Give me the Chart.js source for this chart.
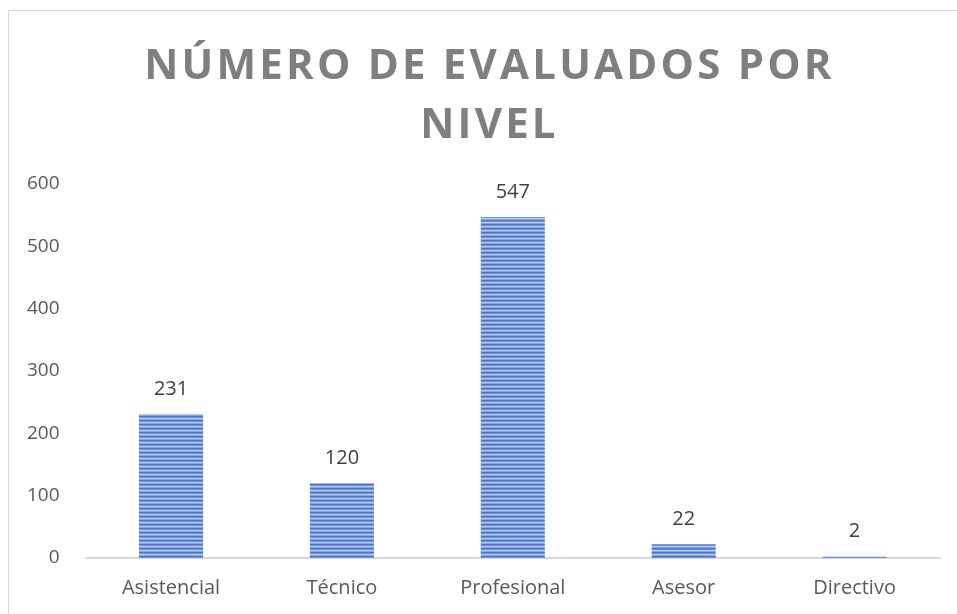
<!DOCTYPE html>
<html>
<head>
<meta charset="utf-8">
<script src="https://cdn.jsdelivr.net/npm/chart.js@4"></script>
<style>
  html, body { margin: 0; padding: 0; background: #fff; }
  #wrap { position: relative; width: 957px; height: 614px; overflow: hidden; }
  #frame { position: absolute; left: 8px; top: 10px; width: 960px; height: 620px; border: 1px solid #d9d9d9; box-sizing: border-box; }
  #title { position: absolute; left: 22px; top: 33px; width: 935px; text-align: center;
           font-family: "Open Sans", sans-serif; font-weight: 700; font-size: 42px; line-height: 59px;
           letter-spacing: 3.2px; color: #7f7f7f; }
  #chart { position: absolute; left: 0; top: 0; }
</style>
</head>
<body>
<div id="wrap">
  <div id="frame"></div>
  <canvas id="chart" width="957" height="614"></canvas>
  <div id="title">NÚMERO DE EVALUADOS POR<br>NIVEL</div>
</div>
<script>
const categories = ['Asistencial', 'Técnico', 'Profesional', 'Asesor', 'Directivo'];
const evaluados = [231, 120, 547, 22, 2];
const yTicks = [0, 100, 200, 300, 400, 500, 600];

function stripePattern() {
    const c = document.createElement('canvas');
    c.width = 4;
    c.height = 4;
    const p = c.getContext('2d');
    const rows = ['#4a76cc', '#6d92dc', '#b8cbef', '#86a4e0'];
    rows.forEach(function (col, i) {
        p.fillStyle = col;
        p.fillRect(0, i, 4, 1);
    });
    return p.createPattern(c, 'repeat');
}

const valueLabels = {
    id: 'valueLabels',
    afterDatasetsDraw: function (chart) {
        const ctx = chart.ctx;
        const meta = chart.getDatasetMeta(0);
        ctx.save();
        ctx.font = '20px "Open Sans", sans-serif';
        ctx.fillStyle = '#404040';
        ctx.textAlign = 'center';
        ctx.textBaseline = 'middle';
        meta.data.forEach(function (bar, i) {
            ctx.fillText(String(evaluados[i]), bar.x, bar.y - 25);
        });
        ctx.restore();
    }
};

const ctx = document.getElementById('chart').getContext('2d');
new Chart(ctx, {
    type: 'bar',
    data: {
        labels: categories,
        datasets: [{
            data: evaluados,
            backgroundColor: stripePattern(),
            borderWidth: 0,
            categoryPercentage: 1,
            barPercentage: 0.375
        }]
    },
    options: {
        responsive: false,
        animation: false,
        layout: { padding: { top: 184, left: 9, right: 17, bottom: 4 } },
        plugins: {
            legend: { display: false },
            title: { display: false },
            tooltip: { enabled: false }
        },
        scales: {
            x: {
                grid: { display: false },
                border: { display: true, color: '#d9d9d9', width: 2 },
                ticks: { color: '#595959', font: { family: 'Open Sans', size: 20 }, padding: 10 }
            },
            y: {
                min: 0,
                max: 600,
                afterBuildTicks: function (axis) {
                    axis.ticks = yTicks.map(function (v) { return { value: v }; });
                },
                grid: { display: false },
                border: { display: false },
                ticks: { color: '#595959', font: { family: 'Open Sans', size: 19 }, padding: 18 }
            }
        }
    },
    plugins: [valueLabels]
});
</script>
</body>
</html>
